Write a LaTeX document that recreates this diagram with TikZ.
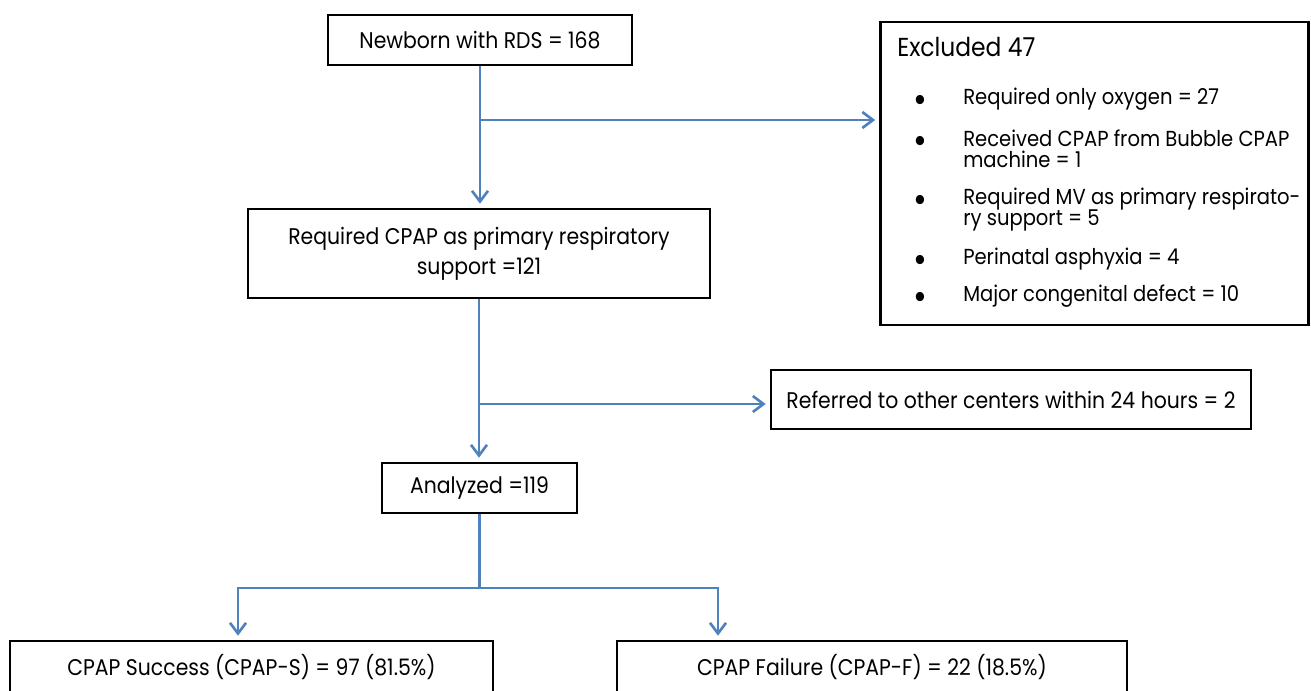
\documentclass[tikz,border=0pt]{standalone}
\usepackage{fontspec}
\setmainfont{Poppins}[FakeStretch=0.9]
\usetikzlibrary{arrows.meta}
\usetikzlibrary{positioning}
\definecolor{flowblue}{RGB}{79,129,189}
\tikzset{box/.style = {draw, line width = 1.9pt, align = center, inner sep = 0, font = \fontsize{17}{22.5}\selectfont}}
\tikzset{flow/.style = {flowblue, line width = 2pt}}
\tikzset{flowarrow/.style = {flow, -{Straight Barb[length = 8pt, width = 12pt]}, shorten > = 3pt}}
\tikzset{line/.style = {anchor = base west, inner sep = 0, font = \fontsize{16.3}{20}\selectfont}}
\tikzset{dot/.style = {inner sep = 0, font = \fontsize{28}{28}\selectfont}}

\begin{document}
\begin{tikzpicture}[x = 0.75pt, y = -0.75pt]
    \useasboundingbox (0, 0) rectangle (1311, 691);

    \node [box, minimum width = 228pt, minimum height = 37.5pt] (newborn) at (480, 40) {Newborn with RDS = 168};
    \node [box, minimum width = 346.5pt, minimum height = 66.75pt] (cpap) at (479, 253.5) {Required CPAP as primary respiratory\\support =121};
    \node [box, minimum width = 360pt, minimum height = 44.25pt] (referred) at (1011, 399.5) {Referred to other centers within 24 hours = 2};
    \node [box, minimum width = 146.25pt, minimum height = 37.5pt] (analyzed) at (479.5, 488) {Analyzed =119};
    \node [box, minimum width = 362.25pt, minimum height = 39pt] (success) at (251.5, 667) {CPAP Success (CPAP-S) = 97 (81.5\%)};
    \node [box, minimum width = 382.5pt, minimum height = 39pt] (failure) at (872, 667) {CPAP Failure (CPAP-F) = 22 (18.5\%)};

    % excluded box
    \node [draw, line width = 1.9pt, minimum width = 321pt, minimum height = 227.25pt] (excluded) at (1094.5, 173.5) {};
    \node [anchor = base west, inner sep = 0, font = \fontsize{19.5}{22}\selectfont] (exctitle) at (897, 57) {Excluded 47};
    \node [dot] (d1) at (920, 104) {•};
    \node [line] (i1) at (963, 105) {Required only oxygen = 27};
    \node [dot] (d2) at (920, 145) {•};
    \node [line] (i2a) at (963, 147) {Received CPAP from Bubble CPAP};
    \node [line] (i2b) at (963, 168) {machine = 1};
    \node [dot] (d3) at (920, 204) {•};
    \node [line] (i3a) at (963, 205) {Required MV as primary respirato-};
    \node [line] (i3b) at (963, 226) {ry support = 5};
    \node [dot] (d4) at (920, 264) {•};
    \node [line] (i4) at (963, 265) {Perinatal asphyxia = 4};
    \node [dot] (d5) at (920, 301) {•};
    \node [line] (i5) at (963, 302) {Major congenital defect = 10};

    % connectors
    \coordinate (split1) at (480, 120);
    \coordinate (split2) at (479, 404);
    \coordinate (split3) at (479.5, 588);
    \coordinate (left) at (238, 588);
    \coordinate (right) at (718, 588);

    \draw [flowarrow] (newborn.south) -- (newborn.south |- cpap.north);
    \draw [flowarrow] (split1) -- (split1 -| excluded.west);
    \draw [flowarrow] (cpap.south) -- (cpap.south |- analyzed.north);
    \draw [flowarrow] (split2) -- (split2 -| referred.west);
    \draw [flow] (analyzed.south) -- (split3);
    \draw [flowarrow] (split3) -| (left |- success.north);
    \draw [flowarrow] (split3) -| (right |- failure.north);
\end{tikzpicture}
\end{document}
